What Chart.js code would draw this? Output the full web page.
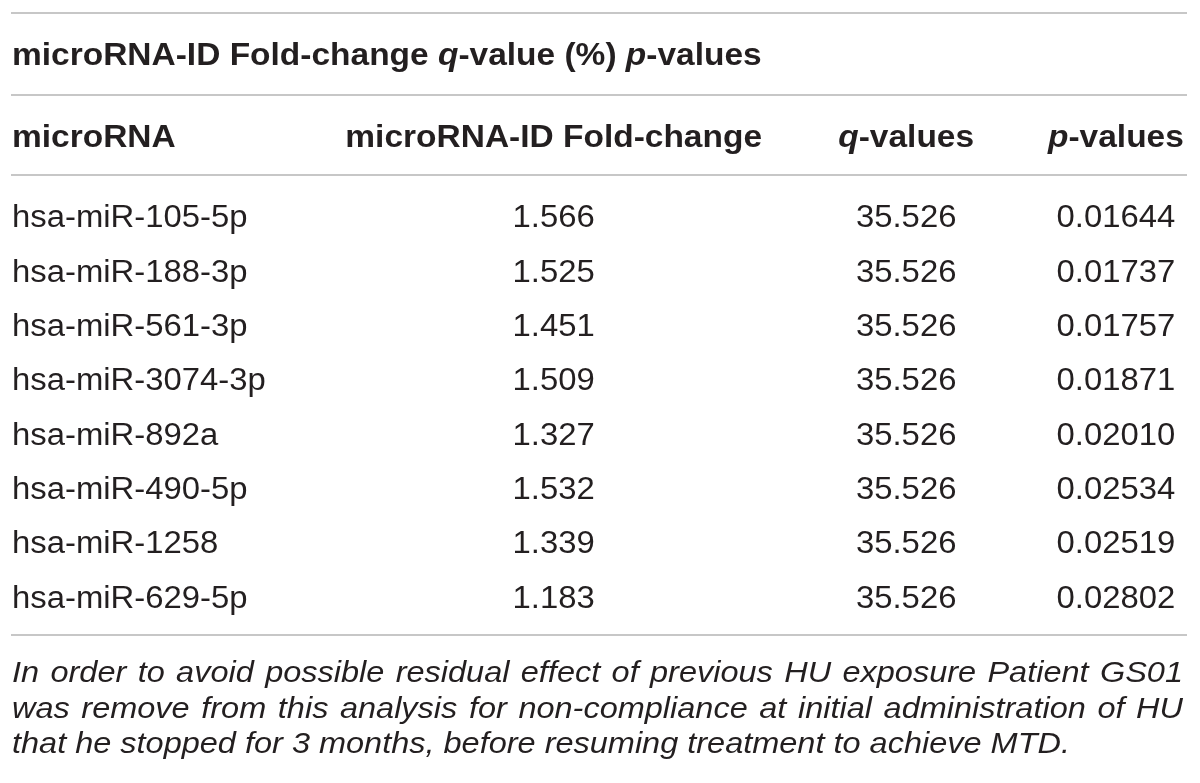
<!DOCTYPE html>
<html>
<head>
<meta charset="utf-8">
<title>microRNA table</title>
<script src="https://cdn.jsdelivr.net/npm/chart.js@4.4.0/dist/chart.umd.min.js"></script>
<style>
    html, body { margin: 0; padding: 0; background: #fff; }
    #wrap { width: 1200px; height: 783px; position: relative; }
</style>
</head>
<body>
<div id="wrap"><canvas id="table-chart"></canvas></div>
<script>
// ========== 数据 ==========

// 标题（分段：文字, 字体样式）
const tableTitle = [
    ['microRNA-ID Fold-change ', 'bold'],
    ['q', 'boldItalic'],
    ['-value (%) ', 'bold'],
    ['p', 'boldItalic'],
    ['-values', 'bold']
];

// 列标题
const columnHeaders = [
    [['microRNA', 'bold']],
    [['microRNA-ID Fold-change', 'bold']],
    [['q', 'boldItalic'], ['-values', 'bold']],
    [['p', 'boldItalic'], ['-values', 'bold']]
];

// 行（类别）
const mirnas = [
    'hsa-miR-105-5p',
    'hsa-miR-188-3p',
    'hsa-miR-561-3p',
    'hsa-miR-3074-3p',
    'hsa-miR-892a',
    'hsa-miR-490-5p',
    'hsa-miR-1258',
    'hsa-miR-629-5p'
];

// 数值列
const foldChange = [1.566, 1.525, 1.451, 1.509, 1.327, 1.532, 1.339, 1.183];
const qValues = [35.526, 35.526, 35.526, 35.526, 35.526, 35.526, 35.526, 35.526];
const pValues = [0.01644, 0.01737, 0.01757, 0.01871, 0.02010, 0.02534, 0.02519, 0.02802];

// 脚注（按原图分行）
const footnoteLines = [
    'In order to avoid possible residual effect of previous HU exposure Patient GS01',
    'was remove from this analysis for non-compliance at initial administration of HU',
    'that he stopped for 3 months, before resuming treatment to achieve MTD.'
];

// ========== 样式 ==========
const FAMILY = '"Liberation Sans", Arial, sans-serif';
const TEXT_COLOR = '#231f20';
const RULE_COLOR = '#b4b4b4';
const STYLES = {
    body:       { font: '31px ' + FAMILY,             stretch: 1.06 },
    bold:       { font: 'bold 31px ' + FAMILY,        stretch: 1.08 },
    boldItalic: { font: 'italic bold 31px ' + FAMILY, stretch: 1.08 },
    note:       { font: 'italic 29px ' + FAMILY,      stretch: 1.12 }
};
// 列中心在 x 轴 (0..1) 上的位置
const COL_POS = [0, 0.461, 0.761, 0.9395];

function segWidth(ctx, seg) {
    const st = STYLES[seg[1]];
    ctx.font = st.font;
    return ctx.measureText(seg[0]).width * st.stretch;
}

// 画一组分段文字，align: left / center
function drawSegments(ctx, segs, x, y, align) {
    const total = segs.reduce((s, seg) => s + segWidth(ctx, seg), 0);
    let cx = align === 'center' ? x - total / 2 : x;
    segs.forEach(seg => {
        const st = STYLES[seg[1]];
        ctx.save();
        ctx.font = st.font;
        ctx.translate(cx, y);
        ctx.scale(st.stretch, 1);
        ctx.fillText(seg[0], 0, 0);
        ctx.restore();
        cx += segWidth(ctx, seg);
    });
}

// 两端对齐的一行
function drawJustified(ctx, text, left, right, y, justify) {
    const words = text.split(' ');
    const widths = words.map(w => segWidth(ctx, [w, 'note']));
    const space = segWidth(ctx, [' ', 'note']);
    const sum = widths.reduce((a, b) => a + b, 0);
    const gap = justify && words.length > 1 ? (right - left - sum) / (words.length - 1) : space;
    let cx = left;
    words.forEach((w, i) => {
        drawSegments(ctx, [[w, 'note']], cx, y, 'left');
        cx += widths[i] + gap;
    });
}

function drawRule(ctx, area, y) {
    ctx.save();
    ctx.strokeStyle = RULE_COLOR;
    ctx.lineWidth = 1.5;
    ctx.beginPath();
    ctx.moveTo(area.left - 1, y);
    ctx.lineTo(area.right, y);
    ctx.stroke();
    ctx.restore();
}

// 表格绘制插件：位置全部取自图表的坐标轴
const tablePlugin = {
    id: 'tableText',
    afterDraw(chart) {
        const ctx = chart.ctx;
        const area = chart.chartArea;
        const xScale = chart.scales.x;
        const yScale = chart.scales.y;

        ctx.save();
        ctx.fillStyle = TEXT_COLOR;
        ctx.textBaseline = 'alphabetic';
        ctx.textAlign = 'left';

        // 横线
        drawRule(ctx, area, area.top - 176);
        drawRule(ctx, area, area.top - 94);
        drawRule(ctx, area, area.top - 14);
        drawRule(ctx, area, area.bottom + 11);

        // 标题
        drawSegments(ctx, tableTitle, area.left, area.top - 124, 'left');

        // 列标题
        columnHeaders.forEach((segs, c) => {
            if (c === 0) {
                drawSegments(ctx, segs, area.left, area.top - 42, 'left');
            } else {
                drawSegments(ctx, segs, xScale.getPixelForValue(COL_POS[c]), area.top - 42, 'center');
            }
        });

        // 第一列：类别名
        mirnas.forEach((name, i) => {
            drawSegments(ctx, [[name, 'body']], area.left, yScale.getPixelForValue(i) + 11, 'left');
        });

        // 数值列：取每个点的位置
        chart.data.datasets.forEach((ds, d) => {
            const meta = chart.getDatasetMeta(d);
            meta.data.forEach((pt, i) => {
                drawSegments(ctx, [[ds.data[i].text, 'body']], pt.x, pt.y + 11, 'center');
            });
        });

        // 脚注
        footnoteLines.forEach((line, i) => {
            drawJustified(ctx, line, area.left, area.right - 4, area.bottom + 58 + i * 35.5, i < footnoteLines.length - 1);
        });

        ctx.restore();
    }
};

function makeColumn(values, col, digits) {
    return values.map((v, i) => ({ x: COL_POS[col], y: mirnas[i], text: v.toFixed(digits) }));
}

const tableChart = new Chart(document.getElementById('table-chart'), {
    type: 'scatter',
    data: {
        datasets: [
            { label: 'Fold-change', data: makeColumn(foldChange, 1, 3), pointRadius: 0 },
            { label: 'q-values', data: makeColumn(qValues, 2, 3), pointRadius: 0 },
            { label: 'p-values', data: makeColumn(pValues, 3, 5), pointRadius: 0 }
        ]
    },
    options: {
        responsive: true,
        maintainAspectRatio: false,
        animation: false,
        events: [],
        layout: {
            padding: { left: 12, right: 13, top: 189, bottom: 159 }
        },
        plugins: {
            legend: { display: false },
            tooltip: { enabled: false }
        },
        scales: {
            x: { type: 'linear', min: 0, max: 1, display: false },
            y: { type: 'category', labels: mirnas, offset: true, display: false }
        }
    },
    plugins: [tablePlugin]
});
</script>
</body>
</html>
